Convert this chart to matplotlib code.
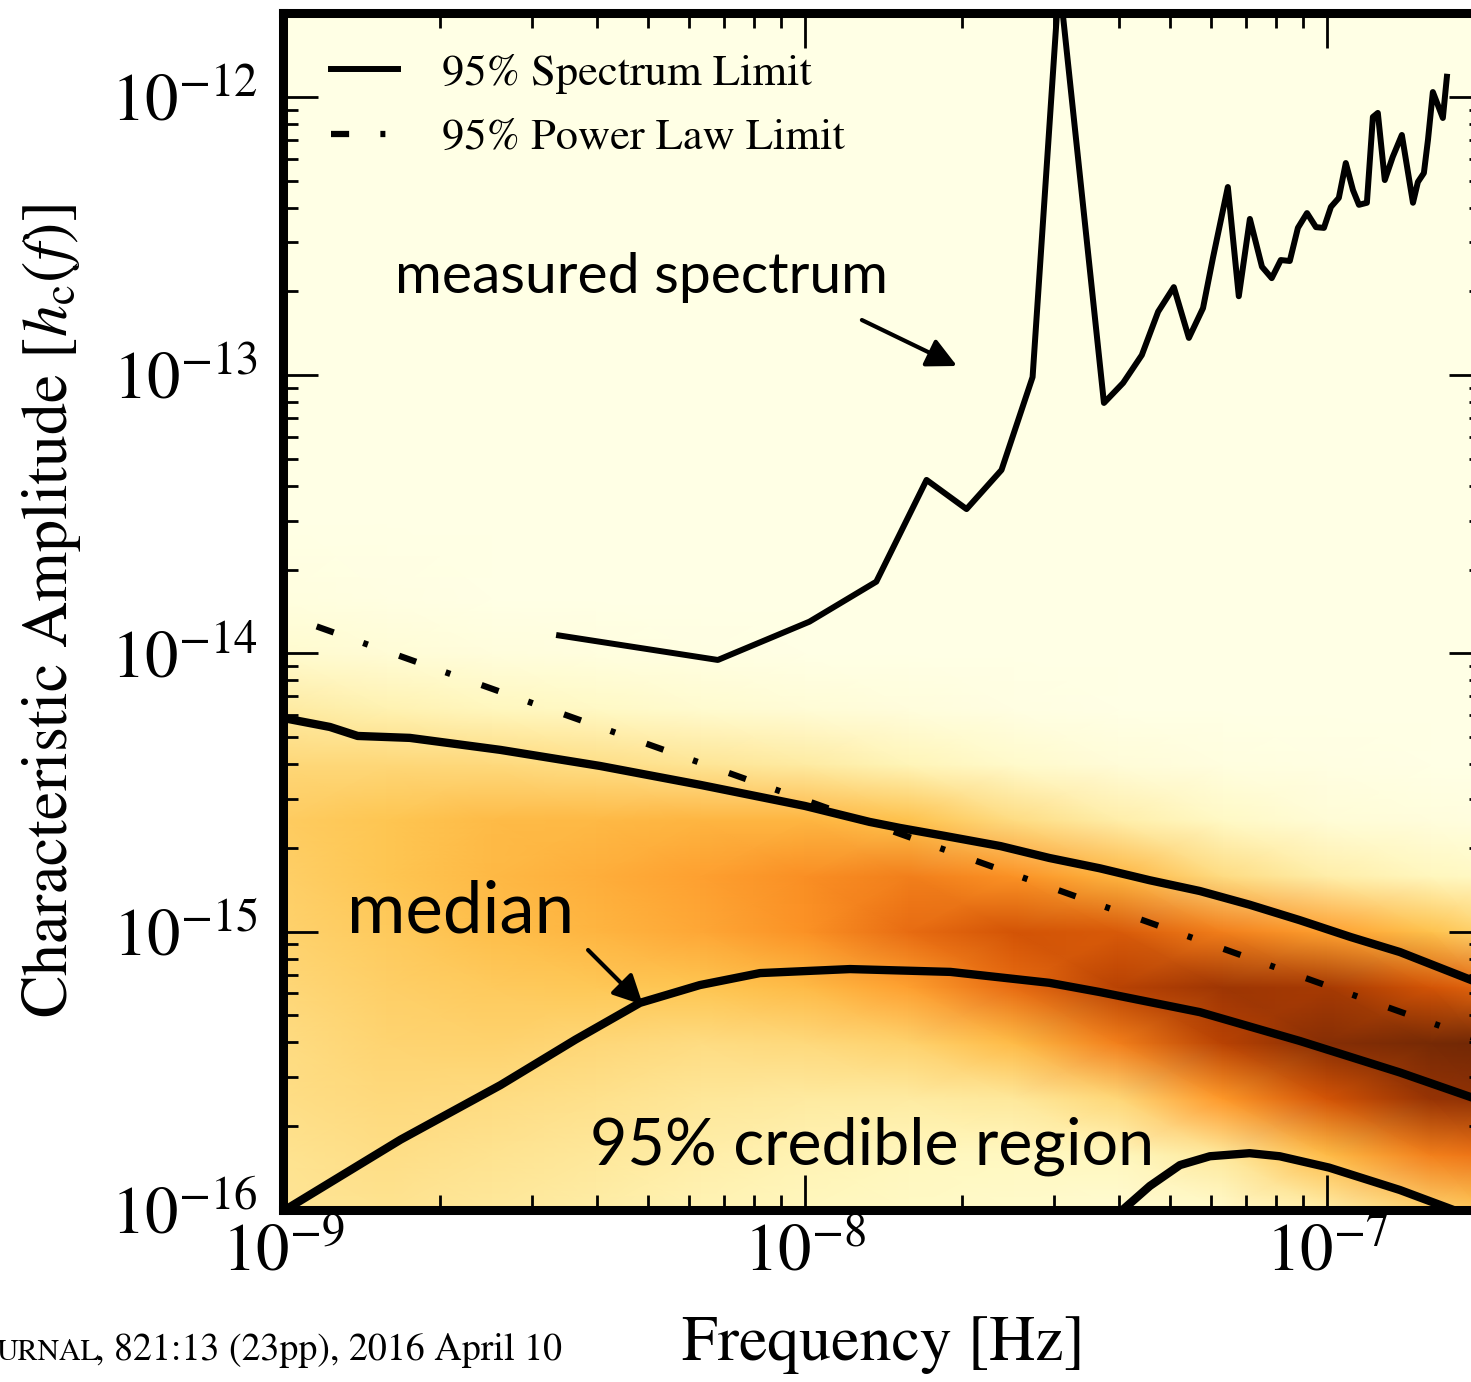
import numpy as np
import matplotlib.pyplot as plt
from matplotlib.ticker import LogLocator, NullFormatter

plt.rcParams['font.family'] = 'STIXGeneral'
plt.rcParams['mathtext.fontset'] = 'stix'

# 95% credible region and median of the posterior h_c(f)
upper_freq = [1.00e-9, 1.23e-9, 1.39e-9, 1.75e-9, 2.61e-9, 4.05e-9, 6.30e-9, 1.00e-8,
              1.33e-8, 1.52e-8, 1.85e-8, 2.37e-8, 2.94e-8, 3.67e-8, 4.58e-8, 5.71e-8,
              7.11e-8, 8.87e-8, 1.11e-7, 1.38e-7, 2.00e-7]
upper_amp = [5.86e-15, 5.44e-15, 5.05e-15, 4.97e-15, 4.50e-15, 3.94e-15, 3.37e-15, 2.83e-15,
             2.48e-15, 2.36e-15, 2.21e-15, 2.03e-15, 1.84e-15, 1.69e-15, 1.53e-15, 1.40e-15,
             1.25e-15, 1.10e-15, 9.57e-16, 8.45e-16, 6.43e-16]

median_freq = [1.00e-9, 1.68e-9, 2.61e-9, 3.63e-9, 4.83e-9, 6.29e-9, 8.20e-9, 1.22e-8,
               1.90e-8, 2.94e-8, 3.67e-8, 5.71e-8, 8.87e-8, 1.38e-7, 2.00e-7]
median_amp = [0.99e-16, 1.79e-16, 2.81e-16, 4.09e-16, 5.55e-16, 6.43e-16, 7.10e-16, 7.34e-16,
              7.17e-16, 6.55e-16, 6.07e-16, 5.14e-16, 4.05e-16, 3.12e-16, 2.45e-16]

lower_freq = [4.01e-8, 4.58e-8, 5.23e-8, 5.97e-8, 7.11e-8, 8.12e-8, 1.01e-7, 1.38e-7, 1.80e-7]
lower_amp = [0.98e-16, 1.22e-16, 1.45e-16, 1.56e-16, 1.60e-16, 1.56e-16, 1.42e-16, 1.18e-16, 0.98e-16]

# measured 95% spectrum limit
spec_freq = [3.38e-9, 6.81e-9, 1.02e-8, 1.37e-8, 1.71e-8, 2.04e-8, 2.38e-8, 2.73e-8,
             3.07e-8, 3.74e-8, 4.07e-8, 4.42e-8, 4.75e-8, 5.09e-8, 5.44e-8, 5.79e-8,
             6.05e-8, 6.46e-8, 6.78e-8, 7.12e-8, 7.51e-8, 7.84e-8, 8.16e-8, 8.49e-8,
             8.80e-8, 9.16e-8, 9.53e-8, 9.87e-8, 1.018e-7, 1.054e-7, 1.087e-7, 1.122e-7,
             1.152e-7, 1.193e-7, 1.225e-7, 1.252e-7, 1.291e-7, 1.337e-7, 1.392e-7, 1.462e-7,
             1.494e-7, 1.534e-7, 1.562e-7, 1.596e-7, 1.668e-7, 1.698e-7]
spec_amp = [1.16e-14, 9.47e-15, 1.30e-14, 1.81e-14, 4.20e-14, 3.30e-14, 4.56e-14, 9.84e-14,
            2.63e-12, 7.94e-14, 9.37e-14, 1.18e-13, 1.69e-13, 2.07e-13, 1.36e-13, 1.74e-13,
            2.64e-13, 4.74e-13, 1.92e-13, 3.64e-13, 2.45e-13, 2.23e-13, 2.59e-13, 2.57e-13,
            3.38e-13, 3.82e-13, 3.40e-13, 3.38e-13, 4.02e-13, 4.33e-13, 5.78e-13, 4.62e-13,
            4.09e-13, 4.16e-13, 8.46e-13, 8.75e-13, 5.02e-13, 6.08e-13, 7.29e-13, 4.16e-13,
            4.94e-13, 5.32e-13, 7.00e-13, 1.04e-12, 8.39e-13, 1.18e-12]

# 95% power-law limit (end points)
pl_freq = [1.16e-9, 2.00e-7]
pl_amp = [1.25e-14, 4.03e-16]

# posterior density of h_c(f), coarse grid (rows: amplitude, cols: frequency)
heat_freq = [1.00e-9, 1.58e-9, 2.51e-9, 3.98e-9, 6.31e-9, 1.00e-8, 1.58e-8, 2.51e-8,
             3.98e-8, 6.31e-8, 1.00e-7, 1.58e-7, 2.00e-7]
heat_amp = [1.00e-16, 1.58e-16, 2.51e-16, 3.98e-16, 6.31e-16, 1.00e-15, 1.58e-15, 2.51e-15,
            3.98e-15, 6.31e-15, 1.00e-14, 1.58e-14, 3.16e-14, 2.00e-12]
density = [
    [0.24, 0.25, 0.22, 0.19, 0.15, 0.12, 0.10, 0.08, 0.06, 0.08, 0.18, 0.32, 0.36],
    [0.25, 0.27, 0.25, 0.22, 0.18, 0.15, 0.12, 0.11, 0.12, 0.22, 0.40, 0.58, 0.62],
    [0.27, 0.29, 0.28, 0.26, 0.23, 0.21, 0.20, 0.22, 0.30, 0.50, 0.72, 0.88, 0.90],
    [0.28, 0.31, 0.32, 0.30, 0.28, 0.29, 0.32, 0.40, 0.58, 0.80, 0.92, 0.96, 0.97],
    [0.30, 0.33, 0.35, 0.36, 0.37, 0.40, 0.48, 0.64, 0.80, 0.86, 0.84, 0.72, 0.66],
    [0.32, 0.35, 0.39, 0.42, 0.46, 0.52, 0.64, 0.72, 0.70, 0.58, 0.48, 0.38, 0.32],
    [0.33, 0.37, 0.41, 0.44, 0.48, 0.53, 0.58, 0.52, 0.42, 0.28, 0.18, 0.12, 0.10],
    [0.34, 0.37, 0.40, 0.41, 0.42, 0.42, 0.38, 0.28, 0.18, 0.10, 0.05, 0.03, 0.02],
    [0.30, 0.30, 0.29, 0.27, 0.24, 0.20, 0.14, 0.08, 0.04, 0.02, 0.01, 0.00, 0.00],
    [0.20, 0.16, 0.12, 0.10, 0.07, 0.05, 0.03, 0.01, 0.00, 0.00, 0.00, 0.00, 0.00],
    [0.07, 0.05, 0.03, 0.02, 0.01, 0.00, 0.00, 0.00, 0.00, 0.00, 0.00, 0.00, 0.00],
    [0.02, 0.01, 0.00, 0.00, 0.00, 0.00, 0.00, 0.00, 0.00, 0.00, 0.00, 0.00, 0.00],
    [0.00, 0.00, 0.00, 0.00, 0.00, 0.00, 0.00, 0.00, 0.00, 0.00, 0.00, 0.00, 0.00],
    [0.00, 0.00, 0.00, 0.00, 0.00, 0.00, 0.00, 0.00, 0.00, 0.00, 0.00, 0.00, 0.00],
]

fig = plt.figure(figsize=(14.71, 13.82), dpi=100)
ax = fig.add_axes([0.19239, 0.12446, 0.81645, 0.86614])
ax.set_xscale('log')
ax.set_yscale('log')

cmap = plt.get_cmap('YlOrBr')
ax.set_facecolor(cmap(0.0))
F, H = np.meshgrid(heat_freq, heat_amp)
ax.pcolormesh(F, H, np.array(density), shading='gouraud', cmap=cmap,
              vmin=0, vmax=1, zorder=0, rasterized=True)

ax.plot(upper_freq, upper_amp, color='k', lw=6, zorder=3)
ax.plot(median_freq, median_amp, color='k', lw=6, zorder=3)
ax.plot(lower_freq, lower_amp, color='k', lw=6, zorder=3)
ax.plot(spec_freq, spec_amp, color='k', lw=4.3, zorder=4, label='95% Spectrum Limit')
ax.plot(pl_freq, pl_amp, color='k', lw=4.5, ls=(0, (2.9, 5.0, 0.8, 5.3)),
        dash_capstyle='butt', zorder=4, label='95% Power Law Limit')

ax.set_xlim(1e-9, 2e-7)
ax.set_ylim(1e-16, 2e-12)

ax.legend(loc='upper left', bbox_to_anchor=(0.04, 0.966), frameon=False, fontsize=32,
          handlelength=1.5, handletextpad=1.0, borderpad=0, borderaxespad=0,
          labelspacing=0.55)

# annotations
sans = 'Lato'
ax.text(0.0935, 0.766, 'measured spectrum', transform=ax.transAxes, fontsize=41,
        family=sans, va='baseline')
ax.text(0.053, 0.232, 'median', transform=ax.transAxes, fontsize=51,
        family=sans, va='baseline')
ax.text(0.2556, 0.0376, '95% credible region', transform=ax.transAxes, fontsize=46.5,
        family=sans, va='baseline')
arrow = dict(arrowstyle='-|>', lw=3, color='k', mutation_scale=45, shrinkA=0, shrinkB=0)
ax.annotate('', xy=(0.5612, 0.7051), xytext=(0.4820, 0.7435),
            xycoords='axes fraction', arrowprops=arrow)
ax.annotate('', xy=(0.2997, 0.1713), xytext=(0.2540, 0.2172),
            xycoords='axes fraction', arrowprops=arrow)

# axes styling
for s in ax.spines.values():
    s.set_linewidth(6.5)
for axis in (ax.xaxis, ax.yaxis):
    axis.set_major_locator(LogLocator(base=10, numticks=20))
    axis.set_minor_locator(LogLocator(base=10, subs=np.arange(2, 10), numticks=100))
    axis.set_minor_formatter(NullFormatter())
ax.tick_params(which='both', direction='in', top=True, right=True)
ax.tick_params(which='major', length=25, width=2, labelsize=48)
ax.tick_params(which='minor', length=11, width=2)
ax.tick_params(axis='x', which='major', pad=10)
ax.tick_params(axis='y', which='major', pad=18)

ax.set_xlabel('Frequency [Hz]', fontsize=46, labelpad=22)
ax.set_ylabel(r'Characteristic Amplitude [$h_{\rm c}(f)$]', fontsize=46, labelpad=20)

fig.text(-0.002, 0.016, 'URNAL', fontsize=21.5, va='baseline')
fig.text(0.0645, 0.016, ', 821:13 (23pp), 2016 April 10', fontsize=27.4, va='baseline')

fig.savefig('out.png', dpi=100)
